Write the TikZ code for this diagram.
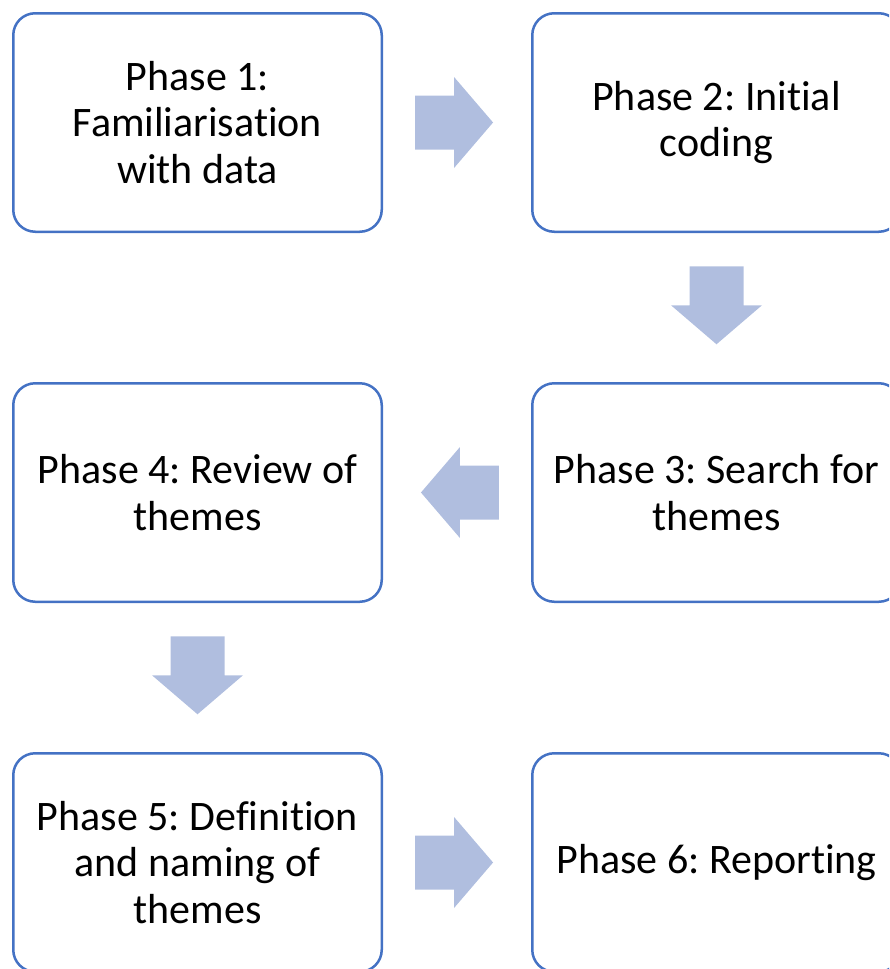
\documentclass[tikz,border=0pt]{standalone}
\usepackage{fontspec}
\setmainfont[Ligatures=NoCommon]{Carlito}
\definecolor{boxline}{RGB}{68,114,196}
\definecolor{arrowfill}{RGB}{176,190,223}
\newcommand\blockarrow[2]{%
  \fill[arrowfill, shift={(#1)}, rotate=#2]
    (-39,27) -- (0,27) -- (0,45.5) -- (39,0) -- (0,-45.5) -- (0,-27) -- (-39,-27) -- cycle;}
\begin{document}
\frenchspacing
\begin{tikzpicture}[x=1pt,y=1pt,
  phasebox/.style={draw=boxline, line width=2.5pt, rounded corners=22pt,
    minimum width=368.5pt, minimum height=218.5pt, align=center,
    font=\fontsize{42}{46.5}\selectfont, text=black, inner sep=0pt}]
\useasboundingbox (0,0) rectangle (889,-969);
\clip (0,0) rectangle (889,-969);
\node[phasebox] (b1) at (197.5,-122.5) {Phase 1:\\Familiarisation\\with data};
\node[phasebox] (b2) at (716.5,-122.5) {Phase 2: Initial\\coding};
\node[phasebox] (b3) at (716.5,-492.5) {Phase 3: Search for\\themes};
\node[phasebox] (b4) at (197.5,-492.5) {Phase 4: Review of\\themes};
\node[phasebox] (b5) at (197.5,-862.5) {Phase 5: Definition\\and naming of\\themes};
\node[phasebox] (b6) at (716.5,-862.5) {Phase 6: Reporting};
\path (b1.east) -- (b2.west) coordinate[pos=0.48] (a12);
\path (b2.south) -- (b3.north) coordinate[pos=0.485] (a23);
\path (b3.west) -- (b4.east) coordinate[pos=0.48] (a34);
\path (b4.south) -- (b5.north) coordinate[pos=0.485] (a45);
\path (b5.east) -- (b6.west) coordinate[pos=0.48] (a56);
\blockarrow{a12}{0}
\blockarrow{a23}{-90}
\blockarrow{a34}{180}
\blockarrow{a45}{-90}
\blockarrow{a56}{0}
\end{tikzpicture}
\end{document}
